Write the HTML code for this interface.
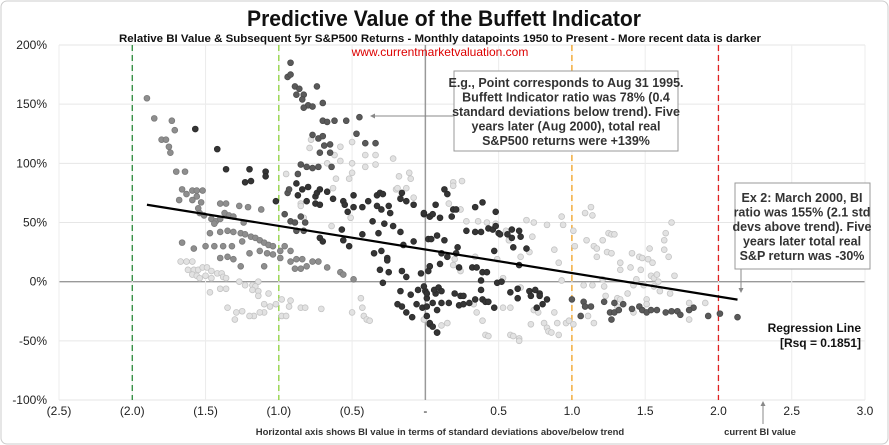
<!DOCTYPE html>
<html><head><meta charset="utf-8"><style>
body{margin:0;background:#fff;}
svg{display:block;font-family:"Liberation Sans",sans-serif;}
</style></head><body>
<svg id="chart" width="889" height="445" viewBox="0 0 889 445">
<rect x="1" y="1" width="887" height="443" rx="6" fill="#fff" stroke="#ccc"/>
<text x="444" y="26" text-anchor="middle" font-size="22" font-weight="bold" fill="#111" textLength="394" lengthAdjust="spacingAndGlyphs">Predictive Value of the Buffett Indicator</text>
<text x="440" y="42" text-anchor="middle" font-size="11" font-weight="bold" fill="#111" textLength="642" lengthAdjust="spacingAndGlyphs">Relative BI Value &amp; Subsequent 5yr S&amp;P500 Returns - Monthly datapoints 1950 to Present - More recent data is darker</text>
<g id="grid"></g>
<g id="marks"></g>
<text x="440" y="56" text-anchor="middle" font-size="12" fill="#d00">www.currentmarketvaluation.com</text>
<g>
<line x1="454" y1="116" x2="372" y2="116" stroke="#888" stroke-width="1"/>
<path d="M370 116 l5 -2.5 v5 z" fill="#888"/>
<rect x="454" y="71" width="224" height="80" fill="#fff" stroke="#999"/>
<g font-size="12.5" font-weight="bold" fill="#333" text-anchor="middle">
<text x="566" y="87">E.g., Point corresponds to Aug 31 1995.</text>
<text x="566" y="101.5">Buffett Indicator ratio was 78% (0.4</text>
<text x="566" y="116">standard deviations below trend). Five</text>
<text x="566" y="130.5">years later (Aug 2000), total real</text>
<text x="566" y="145">S&amp;P500 returns were +139%</text>
</g></g>
<g>
<line x1="741" y1="269" x2="741" y2="290" stroke="#888"/>
<path d="M741 293 l-2.5 -5 h5 z" fill="#888"/>
<rect x="735" y="183" width="135" height="86" fill="#fff" stroke="#999"/>
<g font-size="12.5" font-weight="bold" fill="#333" text-anchor="middle">
<text x="802" y="202">Ex 2: March 2000, BI</text>
<text x="802" y="216.5">ratio was 155% (2.1 std</text>
<text x="802" y="231">devs above trend). Five</text>
<text x="802" y="245.5">years later total real</text>
<text x="802" y="260">S&amp;P return was -30%</text>
</g></g>
<g font-size="12" font-weight="bold" fill="#111" text-anchor="end">
<text x="861" y="332">Regression Line</text>
<text x="861" y="347">[Rsq = 0.1851]</text>
</g>
<text x="440" y="435" text-anchor="middle" font-size="9.5" font-weight="bold" fill="#333">Horizontal axis shows BI value in terms of standard deviations above/below trend</text>
<text x="760" y="435" text-anchor="middle" font-size="9.5" font-weight="bold" fill="#333">current BI value</text>
<line x1="763" y1="424" x2="763" y2="404" stroke="#888"/>
<path d="M763 401 l-2.5 5 h5 z" fill="#888"/>
</svg>
<script>
const xTicks=[-2.5,-2,-1.5,-1,-0.5,0,0.5,1,1.5,2,2.5,3];
const xTickLabels=["(2.5)","(2.0)","(1.5)","(1.0)","(0.5)","-","0.5","1.0","1.5","2.0","2.5","3.0"];
const yTicks=[200,150,100,50,0,-50,-100];
const yTickLabels=["200%","150%","100%","50%","0%","-50%","-100%"];
const refLines=[-2,-1,1,2];
const refColors=["#2a8a3a","#8cd13a","#f0a020","#e02020"];
const regIntercept=27.2;
const regSlope=-19.9;
const regRange=[-1.9,2.13];
// points: light (older), mid, dark-mid, dark (recent)
const lightX=[-0.78,-0.79,-0.58,-0.62,-0.58,-0.50,-0.50,-0.41,-0.34,-0.41,-0.34,-0.22,-0.67,-0.61,-0.63,-0.52,-0.50,-0.18,-0.11,-0.10,-0.20,-0.19,-0.13,-0.08,-0.17,-0.95,-0.85,-0.85,-0.64,-0.51,-0.83,
-1.67,-1.63,-1.59,-1.62,-1.58,-1.55,-1.52,-1.49,-1.46,-1.42,-1.39,-1.59,-1.56,-1.54,-1.50,-1.46,-1.38,-1.36,-1.47,-1.40,-1.36,-1.27,-1.23,-1.18,-1.14,-1.16,-1.18,-1.14,-1.14,-1.07,-0.98,-0.92,-0.93,-1.02,-1.06,-1.10,-1.10,-1.13,-1.17,-1.20,-1.25,-1.29,-1.30,-1.35,-0.98,-0.95,-0.85,-0.82,-0.71,-0.50,-0.44,-0.43,-0.42,-0.40,-0.38,
0.19,0.25,0.19,0.24,0.16,0.28,0.36,0.42,0.48,0.55,0.57,0.65,0.71,0.69,0.74,0.73,0.83,0.88,0.91,0.93,0.94,1.01,1.02,1.09,1.13,1.14,1.10,1.15,1.17,1.21,1.25,1.27,1.29,1.17,1.24,1.27,1.33,1.33,1.40,1.41,1.46,1.48,1.52,1.53,1.55,1.47,1.54,1.56,1.58,1.59,1.63,1.63,1.64,1.68,1.66,1.70,
0.93,1.08,1.14,1.21,1.22,1.23,1.31,1.33,1.38,1.42,1.44,1.49,1.56,1.60,1.67,1.51,1.51,1.42,1.31,1.80,1.80,1.91,0.33,0.35,0.39,0.41,0.43,0.53,0.58,0.58,0.60,0.64,0.64,0.65,0.72,0.74,0.77,0.81,0.83,0.84,0.86,0.88,0.90,0.91,0.96,0.98,1.01,1.15,1.11,0.11,0.15,-0.01,0.49,0.53,0.34,0.24,0.19,0.20];
const lightY=[120,113,114,107,102,118,100,107,107,97,99,104,100,87,79,87,92,89,92,87,78,79,79,71,71,91,66,64,47,54,54,
17,17,17,10,10,10,12,12,9,7,7,6,5,3,5,3,4,3,-9,-6,-6,0,-3,-3,0,-4,-7,-8,-12,-10,-15,-16,-21,-19,-21,-19,-26,-26,-29,-29,-25,-26,-32,-22,-29,-29,-22,-22,-23,-26,-14,-22,-29,-32,-33,
84,85,81,61,66,51,51,50,49,43,35,21,25,52,50,38,48,27,16,55,48,43,30,58,63,56,35,30,28,35,41,40,40,21,25,24,16,10,12,24,21,20,19,28,16,10,5,3,6,0,27,35,41,50,21,5,
1,-3,-3,2,-4,-12,-14,-15,-10,-3,2,-3,-4,-8,-10,-15,-19,-26,-21,-18,-32,-18,-19,-26,-33,-45,-46,-22,-22,-45,-46,-48,-50,-5,-36,-24,-26,-35,-39,-42,-43,-26,-35,-45,-35,-33,-36,-35,-29,-37,-35,-32,19,3,21,9,14,19];
const midX=[-1.90,-1.85,-1.73,-1.71,-1.80,-1.77,-1.75,-1.74,-1.70,-1.64,-1.66,-1.63,-1.59,-1.56,-1.52,-1.56,-1.68,-1.59,-1.53,-1.55,-1.54,-1.51,-1.40,-1.36,-1.27,-1.21,-1.12,-1.46,-1.43,-1.40,-1.37,-1.34,-1.31,-1.44,-1.24,-1.47,-1.40,-1.35,-1.31,-1.26,-1.23,-1.19,-1.16,-1.13,-1.10,-1.07,-1.04,-1.66,-1.58,-1.50,-1.44,-1.38,-1.32,-1.25,-1.20,-1.13,-1.08,-1.04,-0.99,-1.40,-1.35,-1.31,-1.26,-1.10,-0.99,-0.92,-0.88,-0.84,-0.77,-0.73,-0.89,-0.85,-0.81,-0.67,-0.58,-0.56,-0.49,-0.96,-0.92];
const midY=[155,138,136,128,120,120,114,109,93,93,78,74,77,77,77,72,69,69,67,62,58,56,66,66,64,63,61,53,51,53,58,56,55,49,50,41,42,43,42,41,40,38,37,35,33,31,30,33,28,30,30,30,30,34,24,26,24,23,26,20,21,19,13,13,20,17,19,19,17,17,11,11,13,12,8,6,2,30,26];
const dkMidX=[-0.96,-0.92,-0.89,-0.85,-0.82,-0.83,-0.88,-0.94,-0.93,-0.85,-0.81,-0.77,-0.73,-0.87,-0.64,-0.77,-0.73,-0.70,-0.69,-0.65,-0.72,-0.65,-0.92,-0.94,-0.92,-0.89,-0.86,-0.88,-0.83,-0.84,-0.80,-0.77,-0.83,-0.74,-0.70,-0.70,-0.67,-0.62,-0.54,-0.45,-0.47,-0.41,-0.34,
1.00,1.08,1.09,1.13,1.22,1.29,1.35,1.26,1.29,1.32,1.27,1.41,1.46,1.48,1.51,1.54,1.58,1.64,1.68,1.72,1.74,1.83,1.93,2.01,2.13,1.06,1.80];
const dkMidY=[57,51,50,55,50,43,43,75,78,99,97,96,97,91,97,124,121,123,115,116,109,109,185,173,175,165,163,158,158,154,149,148,147,165,151,136,135,136,136,139,125,117,117,
-15,-17,-21,-21,-17,-18,-19,-26,-26,-24,-32,-23,-21,-24,-26,-24,-24,-26,-25,-25,-28,-22,-29,-27,-30,-29,-24];
const darkX=[-1.57,-1.42,-1.36,-1.20,-1.09,-1.09,-1.23,-1.19,-1.02,-0.88,-0.84,-0.80,-0.87,-0.81,-0.75,-0.74,-0.72,-0.67,-0.75,-0.72,-0.63,-0.56,-0.55,-0.53,-0.49,-0.49,-0.43,-0.39,-0.33,-0.31,-0.29,-0.33,-0.30,-0.25,-0.24,-0.16,-0.17,-0.13,-0.08,-0.36,-0.28,-0.22,-0.17,-0.32,-0.43,-0.57,-0.72,-0.70,-0.56,-0.52,-0.15,-0.08,-0.01,0.03,0.02,-0.35,-0.30,-0.26,-0.26,-0.31,-0.25,-0.16,-0.13,-0.03,0.03,-0.29,-0.17,-0.10,-0.05,0,0.01,-0.19,-0.16,-0.13,-0.09,-0.06,-0.02,0.01,0.03,0.08,
0.13,0.15,0.07,-0.01,0.03,0.05,0.10,0.19,0.21,0.18,0.34,0.39,0.48,0.28,0.34,0.38,0.43,0.46,0.48,0.50,0.51,0.56,0.59,0.64,0.59,0.65,0.69,0.47,0.60,0.64,0.04,0.08,0.13,0.11,0.15,0.22,0.21,0.10,0.03,0.02,0.23,0.32,0.35,0.39,0.42,0.38,0.49,0.52,-0.01,0.01,0.07,0.06,0.09,0.11,0.20,0.24,0.26,0.23,0.26,0.30,0.34,0.39,0.41,0.43,0.47,0.38,0.58,0.63,0.63,0.71,0.75,0.78,0.78,0.72,0.76,0.80,0.83,0.05,0.11,0.16,0.01,0.08,0.03,0.05,0.08];
const darkY=[129,112,95,95,93,89,84,85,68,83,78,80,73,68,72,75,78,76,66,65,70,68,65,59,73,63,63,68,73,75,74,64,61,64,58,75,70,68,65,51,49,47,42,41,40,44,37,34,35,30,31,34,57,55,36,24,26,20,18,10,8,9,4,7,13,-1,-8,-11,-7,-8,-14,-19,-21,-26,-30,-19,-22,-29,-36,-43,
78,74,65,58,55,57,54,61,61,55,63,67,59,43,42,42,45,44,47,41,40,40,44,43,37,38,28,26,29,14,36,39,35,24,21,29,24,15,13,9,12,12,12,8,8,1,-1,0,-4,-10,-10,-7,-5,-8,-10,-12,-12,-20,-19,-18,-15,-15,-17,-17,-22,-7,-9,-6,-14,-8,-7,-10,-12,-12,-22,-19,-15,-18,-18,-18,-21,-24,-35,-38,-43];

const NS="http://www.w3.org/2000/svg";
const X0=59,X1=865,Y0=45,Y1=400;
const sx=v=>X0+(v-(-2.5))/(5.5)*(X1-X0);
const sy=v=>Y1-(v-(-100))/300*(Y1-Y0);
function mk(tag,attrs,parent){const e=document.createElementNS(NS,tag);for(const k in attrs)e.setAttribute(k,attrs[k]);parent.appendChild(e);return e;}
const grid=document.getElementById('grid'),marks=document.getElementById('marks');
yTicks.forEach((t,i)=>{
 const l=mk('line',{x1:X0,x2:X1,y1:sy(t),y2:sy(t),stroke:t===0?'#999':'#e6e6e6','stroke-width':t===0?1.3:1},grid);
 
 
 const tx=mk('text',{x:47,y:sy(t)+4,'text-anchor':'end','font-size':12,fill:'#222'},grid);
 tx.textContent=yTickLabels[i];
 
 
});
xTicks.forEach((t,i)=>{
 const l=mk('line',{x1:sx(t),x2:sx(t),y1:Y0,y2:Y1,stroke:t===0?'#999':'#ececec','stroke-width':t===0?1.5:1},grid);
 
 
 const tx=mk('text',{x:sx(t),y:415,'text-anchor':'middle','font-size':12,fill:'#222'},grid);
 tx.textContent=xTickLabels[i];
 
 
});
refLines.forEach((t,i)=>{
 const l=mk('line',{x1:sx(t),x2:sx(t),y1:Y0,y2:Y1,stroke:refColors[i],'stroke-width':1.3,'stroke-dasharray':'6,4'},grid);
 
 
});
function series(xs,ys,fill,stroke,name){
 const g=mk('g',{},marks);
 
 
 xs.forEach((x,i)=>{
  const c=mk('circle',{cx:sx(x),cy:sy(ys[i]),r:2.9,fill:fill,stroke:stroke,'stroke-width':0.8},g);
  
  
 });
}
series(lightX,lightY,'#e2e2e2','#c4c4c4','older-points');
series(midX,midY,'#8e8e8e','#7a7a7a','mid-points');
series(dkMidX,dkMidY,'#5a5a5a','#4a4a4a','recent-points');
series(darkX,darkY,'#353535','#2a2a2a','latest-points');
const reg=mk('line',{x1:sx(regRange[0]),y1:sy(regIntercept+regSlope*regRange[0]),x2:sx(regRange[1]),y2:sy(regIntercept+regSlope*regRange[1]),stroke:'#000','stroke-width':2.2},marks);


</script>
</body></html>
